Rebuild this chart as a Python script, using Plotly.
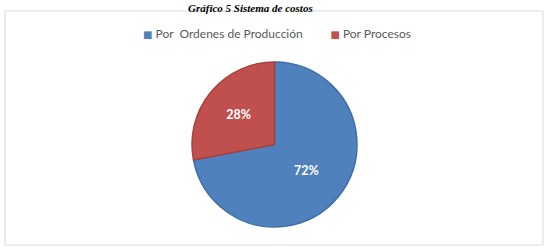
import plotly.graph_objects as go

labels = ["Por  Ordenes de Producción", "Por Procesos"]
values = [72, 28]
colors = ["#4F81BD", "#C0504D"]
line_colors = ["#3F6FA8", "#A8403D"]
title_text = "Gráfico 5 Sistema de costos"

W, H = 548, 252

fig = go.Figure(go.Pie(
    labels=labels,
    values=values,
    sort=False,
    direction="clockwise",
    rotation=0,
    marker=dict(colors=colors, line=dict(color=line_colors, width=1.5)),
    textinfo="percent",
    texttemplate="%{percent:.0%}",
    textposition="inside",
    insidetextorientation="horizontal",
    textfont=dict(family="Lato, Open Sans, Arial", size=12.5, color="white", weight="bold"),
    domain=dict(x=[192 / W, 357 / W], y=[25 / H, 190 / H]),
    hoverinfo="skip",
    showlegend=False,
))

def esc(s):
    return s.replace("  ", "&nbsp; ")

legend_parts = []
for lab, col in zip(labels, colors):
    legend_parts.append(
        "<span style='color:%s;font-family:DejaVu Sans;font-size:10px'>■</span> %s" % (col, esc(lab))
    )
legend_text = ("&nbsp;" * 9).join(legend_parts)

fig.update_layout(
    width=W, height=H,
    margin=dict(l=0, r=0, t=0, b=0),
    paper_bgcolor="white",
    plot_bgcolor="white",
    shapes=[dict(
        type="rect", xref="paper", yref="paper",
        x0=5 / W, x1=543 / W, y0=1 - 245 / H, y1=1 - 11 / H,
        line=dict(color="#D9D9D9", width=1),
        fillcolor="rgba(0,0,0,0)",
        layer="below",
    )],
    annotations=[
        dict(
            text="<b><i>" + title_text + "</i></b>",
            xref="paper", yref="paper",
            x=250 / W, xanchor="center",
            y=1.0, yanchor="top",
            showarrow=False,
            font=dict(family="Liberation Serif, serif", size=11, color="#000000"),
        ),
        dict(
            text=legend_text,
            xref="paper", yref="paper",
            x=277 / W, xanchor="center",
            y=1 - 34 / H, yanchor="middle",
            showarrow=False,
            font=dict(family="Lato, Open Sans, Arial", size=12, color="#595959"),
        ),
    ],
)

fig.write_html("out.html")
